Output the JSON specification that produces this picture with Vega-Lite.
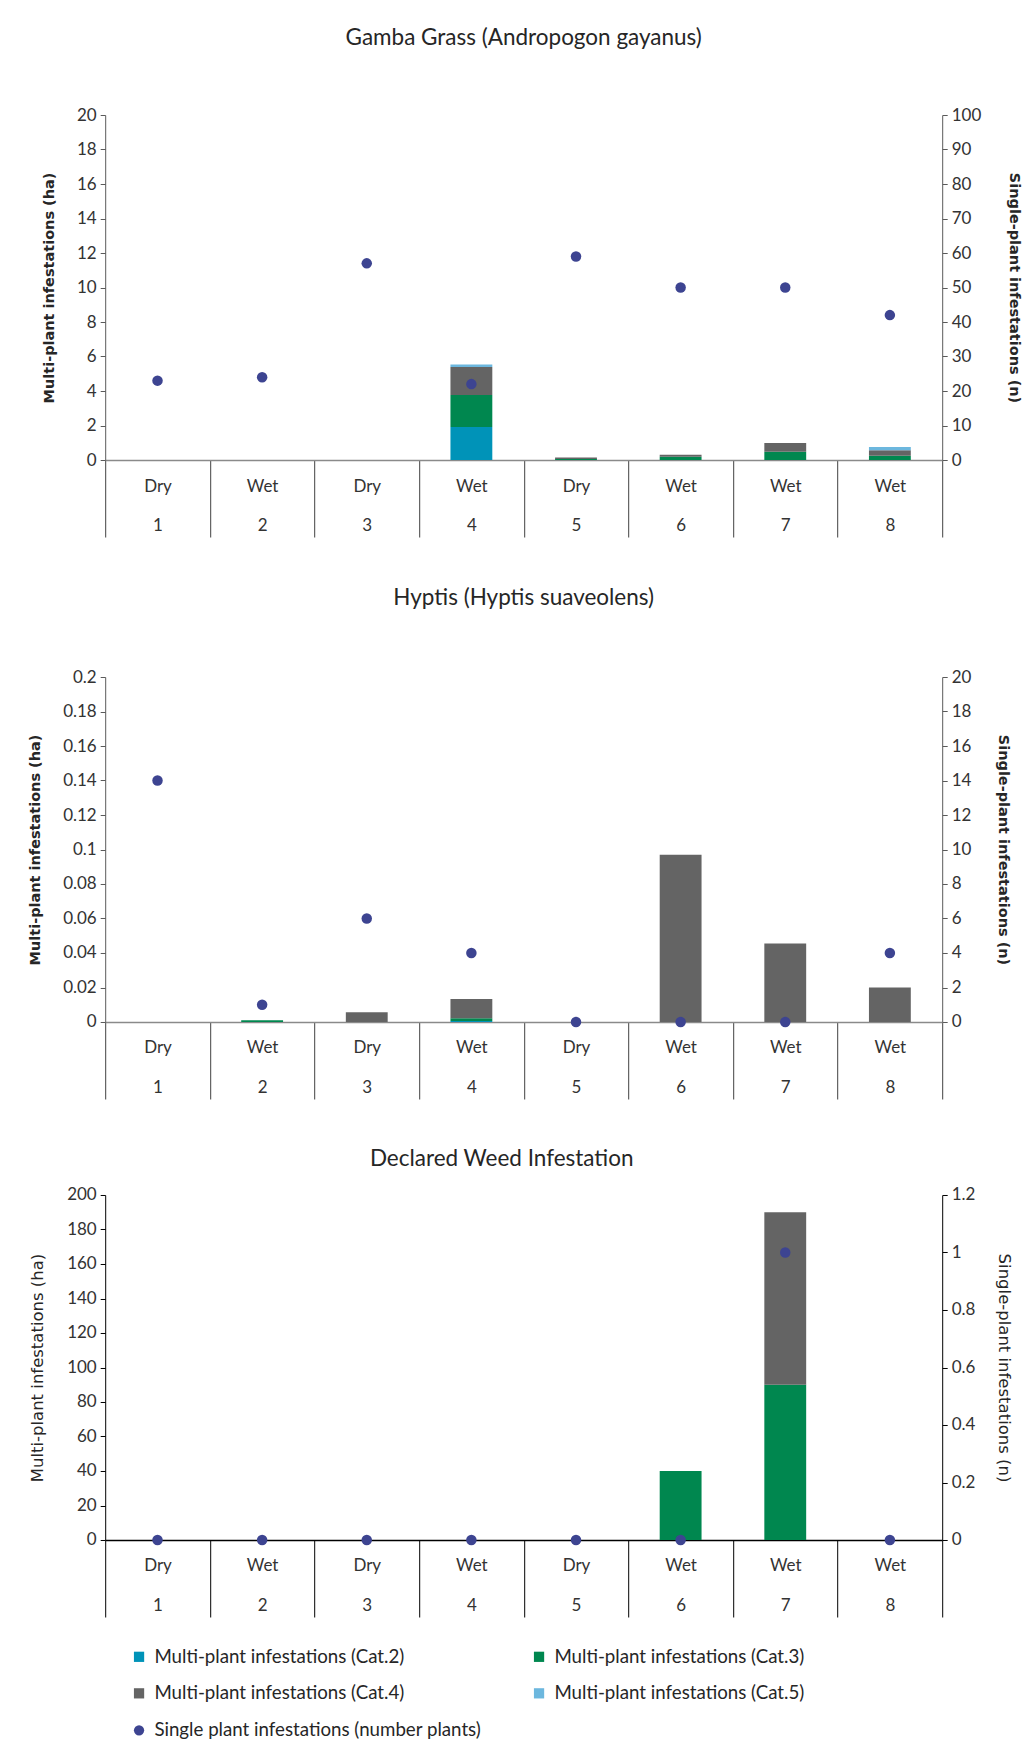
{
  "$schema": "https://vega.github.io/schema/vega-lite/v6.json",
  "background": "white",
  "padding": {"left": 27.2, "top": 26, "right": 0, "bottom": 0},
  "spacing": 48,
  "datasets": {
    "g_bars": [
      {"site": 4, "lab": "Wet|4", "cat": "Multi-plant infestations (Cat.2)", "ha": 1.92},
      {"site": 4, "lab": "Wet|4", "cat": "Multi-plant infestations (Cat.3)", "ha": 1.85},
      {"site": 4, "lab": "Wet|4", "cat": "Multi-plant infestations (Cat.4)", "ha": 1.62},
      {"site": 4, "lab": "Wet|4", "cat": "Multi-plant infestations (Cat.5)", "ha": 0.14},
      {"site": 5, "lab": "Dry|5", "cat": "Multi-plant infestations (Cat.3)", "ha": 0.06},
      {"site": 5, "lab": "Dry|5", "cat": "Multi-plant infestations (Cat.4)", "ha": 0.08},
      {"site": 6, "lab": "Wet|6", "cat": "Multi-plant infestations (Cat.3)", "ha": 0.19},
      {"site": 6, "lab": "Wet|6", "cat": "Multi-plant infestations (Cat.4)", "ha": 0.12},
      {"site": 7, "lab": "Wet|7", "cat": "Multi-plant infestations (Cat.3)", "ha": 0.48},
      {"site": 7, "lab": "Wet|7", "cat": "Multi-plant infestations (Cat.4)", "ha": 0.5},
      {"site": 8, "lab": "Wet|8", "cat": "Multi-plant infestations (Cat.3)", "ha": 0.25},
      {"site": 8, "lab": "Wet|8", "cat": "Multi-plant infestations (Cat.4)", "ha": 0.31},
      {"site": 8, "lab": "Wet|8", "cat": "Multi-plant infestations (Cat.5)", "ha": 0.19}
    ],
    "g_pts": [
      {"site": 1, "lab": "Dry|1", "n": 23},
      {"site": 2, "lab": "Wet|2", "n": 24},
      {"site": 3, "lab": "Dry|3", "n": 57},
      {"site": 4, "lab": "Wet|4", "n": 22},
      {"site": 5, "lab": "Dry|5", "n": 59},
      {"site": 6, "lab": "Wet|6", "n": 50},
      {"site": 7, "lab": "Wet|7", "n": 50},
      {"site": 8, "lab": "Wet|8", "n": 42}
    ],
    "h_bars": [
      {"site": 2, "lab": "Wet|2", "cat": "Multi-plant infestations (Cat.3)", "ha": 0.001},
      {"site": 3, "lab": "Dry|3", "cat": "Multi-plant infestations (Cat.4)", "ha": 0.0057},
      {"site": 4, "lab": "Wet|4", "cat": "Multi-plant infestations (Cat.2)", "ha": 0.0006},
      {"site": 4, "lab": "Wet|4", "cat": "Multi-plant infestations (Cat.3)", "ha": 0.0016},
      {"site": 4, "lab": "Wet|4", "cat": "Multi-plant infestations (Cat.4)", "ha": 0.0112},
      {"site": 6, "lab": "Wet|6", "cat": "Multi-plant infestations (Cat.4)", "ha": 0.097},
      {"site": 7, "lab": "Wet|7", "cat": "Multi-plant infestations (Cat.4)", "ha": 0.0455},
      {"site": 8, "lab": "Wet|8", "cat": "Multi-plant infestations (Cat.4)", "ha": 0.02}
    ],
    "h_pts": [
      {"site": 1, "lab": "Dry|1", "n": 14},
      {"site": 2, "lab": "Wet|2", "n": 1},
      {"site": 3, "lab": "Dry|3", "n": 6},
      {"site": 4, "lab": "Wet|4", "n": 4},
      {"site": 5, "lab": "Dry|5", "n": 0},
      {"site": 6, "lab": "Wet|6", "n": 0},
      {"site": 7, "lab": "Wet|7", "n": 0},
      {"site": 8, "lab": "Wet|8", "n": 4}
    ],
    "d_bars": [
      {"site": 6, "lab": "Wet|6", "cat": "Multi-plant infestations (Cat.3)", "ha": 40},
      {"site": 7, "lab": "Wet|7", "cat": "Multi-plant infestations (Cat.3)", "ha": 90},
      {"site": 7, "lab": "Wet|7", "cat": "Multi-plant infestations (Cat.4)", "ha": 100}
    ],
    "d_pts": [
      {"site": 1, "lab": "Dry|1", "n": 0},
      {"site": 2, "lab": "Wet|2", "n": 0},
      {"site": 3, "lab": "Dry|3", "n": 0},
      {"site": 4, "lab": "Wet|4", "n": 0},
      {"site": 5, "lab": "Dry|5", "n": 0},
      {"site": 6, "lab": "Wet|6", "n": 0},
      {"site": 7, "lab": "Wet|7", "n": 1},
      {"site": 8, "lab": "Wet|8", "n": 0}
    ]
  },
  "vconcat": [
    {
      "title": {"text": "Gamba Grass (Andropogon gayanus)", "offset": 57, "frame": "group"},
      "width": 837,
      "height": 345,
      "encoding": {
        "x": {
          "field": "lab", "type": "nominal",
          "sort": ["Dry|1", "Wet|2", "Dry|3", "Wet|4", "Dry|5", "Wet|6", "Wet|7", "Wet|8"],
          "scale": {"paddingInner": 0, "paddingOuter": 0},
          "axis": {"title": null, "labelAngle": 0, "labelExpr": "split(datum.label, '|')", "labelLineHeight": 40, "tickBand": "extent", "tickSize": 77, "labelPadding": -59, "domainColor": "#8a8a8a", "domainWidth": 1.5, "tickColor": "#404040"}
        }
      },
      "layer": [
        {
          "data": {"name": "g_bars"},
          "mark": {"type": "bar", "width": {"band": 0.4}},
          "encoding": {
            "y": {"field": "ha", "type": "quantitative", "stack": "zero", "scale": {"domain": [0, 20]},
              "axis": {"title": "Multi-plant infestations (ha)", "titlePadding": 20, "values": [0, 2, 4, 6, 8, 10, 12, 14, 16, 18, 20], "format": "~r"}},
            "order": {"field": "cat", "sort": "ascending"},
            "color": {"field": "cat", "type": "nominal",
              "scale": {"domain": ["Multi-plant infestations (Cat.2)", "Multi-plant infestations (Cat.4)", "Single plant infestations (number plants)", "Multi-plant infestations (Cat.3)", "Multi-plant infestations (Cat.5)"], "range": ["#0093b8", "#646464", "#3d4491", "#00874f", "#6cb7de"]},
              "legend": {"title": null, "orient": "none", "legendX": 24.5, "legendY": 1532, "columns": 2, "columnPadding": 48, "rowPadding": 17, "labelFontSize": 18.7, "labelFont": "Lato", "labelColor": "#262626", "labelLimit": 500, "labelOffset": 6, "symbolSize": 105, "symbolStrokeWidth": 0,
                "encode": {"symbols": {"update": {"shape": {"signal": "datum.value == 'Single plant infestations (number plants)' ? 'circle' : 'square'"}}}}}}
          }
        },
        {
          "data": {"name": "g_pts"},
          "mark": {"type": "point", "filled": true, "size": 110, "opacity": 1},
          "encoding": {
            "y": {"field": "n", "type": "quantitative", "scale": {"domain": [0, 100]},
              "axis": {"orient": "right", "title": "Single-plant infestations (n)", "titlePadding": 25.5, "values": [0, 10, 20, 30, 40, 50, 60, 70, 80, 90, 100], "format": "~r"}},
            "color": {"datum": "Single plant infestations (number plants)"}
          }
        }
      ],
      "resolve": {"scale": {"y": "independent"}}
    },
    {
      "title": {"text": "Hyptis (Hyptis suaveolens)", "offset": 59, "frame": "group"},
      "width": 837,
      "height": 345,
      "encoding": {
        "x": {
          "field": "lab", "type": "nominal",
          "sort": ["Dry|1", "Wet|2", "Dry|3", "Wet|4", "Dry|5", "Wet|6", "Wet|7", "Wet|8"],
          "scale": {"paddingInner": 0, "paddingOuter": 0},
          "axis": {"title": null, "labelAngle": 0, "labelExpr": "split(datum.label, '|')", "labelLineHeight": 40, "tickBand": "extent", "tickSize": 77, "labelPadding": -59, "domainColor": "#8a8a8a", "domainWidth": 1.5, "tickColor": "#404040"}
        }
      },
      "layer": [
        {
          "data": {"name": "h_bars"},
          "mark": {"type": "bar", "width": {"band": 0.4}},
          "encoding": {
            "y": {"field": "ha", "type": "quantitative", "stack": "zero", "scale": {"domain": [0, 0.2]},
              "axis": {"title": "Multi-plant infestations (ha)", "titlePadding": 20.3, "values": [0, 0.02, 0.04, 0.06, 0.08, 0.1, 0.12, 0.14, 0.16, 0.18, 0.2], "format": "~r"}},
            "order": {"field": "cat", "sort": "ascending"},
            "color": {"field": "cat", "type": "nominal",
              "scale": {"domain": ["Multi-plant infestations (Cat.2)", "Multi-plant infestations (Cat.4)", "Single plant infestations (number plants)", "Multi-plant infestations (Cat.3)", "Multi-plant infestations (Cat.5)"], "range": ["#0093b8", "#646464", "#3d4491", "#00874f", "#6cb7de"]},
              "legend": {"title": null, "orient": "none", "legendX": 24.5, "legendY": 1532, "columns": 2, "columnPadding": 48, "rowPadding": 17, "labelFontSize": 18.7, "labelFont": "Lato", "labelColor": "#262626", "labelLimit": 500, "labelOffset": 6, "symbolSize": 105, "symbolStrokeWidth": 0,
                "encode": {"symbols": {"update": {"shape": {"signal": "datum.value == 'Single plant infestations (number plants)' ? 'circle' : 'square'"}}}}}}
          }
        },
        {
          "data": {"name": "h_pts"},
          "mark": {"type": "point", "filled": true, "size": 110, "opacity": 1},
          "encoding": {
            "y": {"field": "n", "type": "quantitative", "scale": {"domain": [0, 20]},
              "axis": {"orient": "right", "title": "Single-plant infestations (n)", "titlePadding": 24.5, "values": [0, 2, 4, 6, 8, 10, 12, 14, 16, 18, 20], "format": "~r"}},
            "color": {"datum": "Single plant infestations (number plants)"}
          }
        }
      ],
      "resolve": {"scale": {"y": "independent"}}
    },
    {
      "title": {"text": "Declared Weed Infestation", "offset": 15, "frame": "group", "dx": -22},
      "width": 837,
      "height": 345,
      "encoding": {
        "x": {
          "field": "lab", "type": "nominal",
          "sort": ["Dry|1", "Wet|2", "Dry|3", "Wet|4", "Dry|5", "Wet|6", "Wet|7", "Wet|8"],
          "scale": {"paddingInner": 0, "paddingOuter": 0},
          "axis": {"title": null, "labelAngle": 0, "labelExpr": "split(datum.label, '|')", "labelLineHeight": 40, "tickBand": "extent", "tickSize": 77, "labelPadding": -59, "domainColor": "#000000", "domainWidth": 1.5, "tickColor": "#000000"}
        }
      },
      "layer": [
        {
          "data": {"name": "d_bars"},
          "mark": {"type": "bar", "width": {"band": 0.4}},
          "encoding": {
            "y": {"field": "ha", "type": "quantitative", "stack": "zero", "scale": {"domain": [0, 200]},
              "axis": {"title": "Multi-plant infestations (ha)", "titleFontWeight": "normal", "titleFontSize": 16.5, "titlePadding": 21.3, "domainColor": "#000000", "tickColor": "#000000", "values": [0, 20, 40, 60, 80, 100, 120, 140, 160, 180, 200], "format": "~r"}},
            "order": {"field": "cat", "sort": "ascending"},
            "color": {"field": "cat", "type": "nominal",
              "scale": {"domain": ["Multi-plant infestations (Cat.2)", "Multi-plant infestations (Cat.4)", "Single plant infestations (number plants)", "Multi-plant infestations (Cat.3)", "Multi-plant infestations (Cat.5)"], "range": ["#0093b8", "#646464", "#3d4491", "#00874f", "#6cb7de"]},
              "legend": {"title": null, "orient": "none", "legendX": 24.5, "legendY": 1532, "columns": 2, "columnPadding": 48, "rowPadding": 17, "labelFontSize": 18.7, "labelFont": "Lato", "labelColor": "#262626", "labelLimit": 500, "labelOffset": 6, "symbolSize": 105, "symbolStrokeWidth": 0,
                "encode": {"symbols": {"update": {"shape": {"signal": "datum.value == 'Single plant infestations (number plants)' ? 'circle' : 'square'"}}}}}}
          }
        },
        {
          "data": {"name": "d_pts"},
          "mark": {"type": "point", "filled": true, "size": 110, "opacity": 1},
          "encoding": {
            "y": {"field": "n", "type": "quantitative", "scale": {"domain": [0, 1.2]},
              "axis": {"orient": "right", "title": "Single-plant infestations (n)", "titleFontWeight": "normal", "titleFontSize": 16.5, "titlePadding": 20.5, "domainColor": "#000000", "tickColor": "#000000", "values": [0, 0.2, 0.4, 0.6, 0.8, 1, 1.2], "format": "~r"}},
            "color": {"datum": "Single plant infestations (number plants)"}
          }
        }
      ],
      "resolve": {"scale": {"y": "independent"}}
    }
  ],
  "config": {
    "view": {"stroke": null},
    "font": "Lato",
    "title": {"font": "Lato", "fontSize": 22.5, "fontWeight": "normal", "color": "#262626", "anchor": "middle"},
    "axis": {"labelFont": "Lato", "labelFontSize": 17, "labelColor": "#333333", "titleFont": "DejaVu Sans", "titleFontSize": 14.5, "titleFontWeight": "bold", "titleColor": "#262626", "grid": false, "domainColor": "#595959", "tickColor": "#595959", "tickSize": 5, "labelPadding": 4}
  }
}
